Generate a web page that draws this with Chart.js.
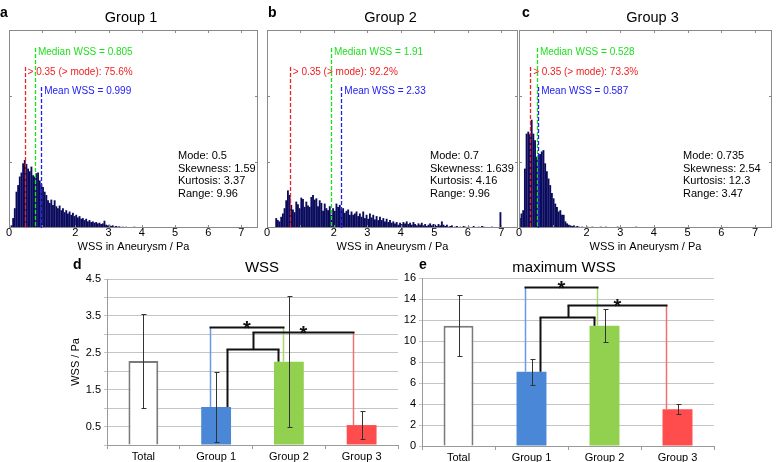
<!DOCTYPE html>
<html><head><meta charset="utf-8">
<script src="https://cdn.jsdelivr.net/npm/chart.js@4.4.1/dist/chart.umd.min.js"></script>
<style>
html,body{margin:0;padding:0;background:#fff;}
#wrap{position:relative;width:780px;height:462px;overflow:hidden;background:#fff;}
canvas{position:absolute;}
</style></head><body>
<div id="wrap">
<canvas id="ha" style="left:0px;top:0px" width="262" height="258"></canvas>
<canvas id="hb" style="left:258px;top:0px" width="262" height="258"></canvas>
<canvas id="hc" style="left:510px;top:0px" width="270" height="258"></canvas>
<canvas id="bd" style="left:0px;top:250px" width="400" height="212"></canvas>
<canvas id="be" style="left:400px;top:250px" width="380" height="212"></canvas>
</div>
<script>
// ---------------- DATA ----------------
const BIN_WIDTH = 0.05; // histogram bin width (Pa)
const group1Counts = [0,0.04,0.15,0.3,0.55,0.65,0.78,0.84,0.98,1.03,0.97,0.9,0.86,0.93,0.8,0.78,0.83,0.84,0.72,0.66,
 0.62,0.55,0.5,0.42,0.38,0.43,0.35,0.42,0.33,0.3,0.34,0.27,0.3,0.24,0.27,0.22,0.25,0.2,0.23,0.18,
 0.2,0.16,0.18,0.14,0.15,0.12,0.14,0.1,0.12,0.09,0.1,0.08,0.09,0.07,0.08,0.06,0.07,0.11,0.05,0.04,
 0.05,0.03,0.04,0.02,0.03,0.02,0.025,0.015,0.02,0.01,0.02,0.01,0.015,0.01,0.01,0.02,0.01,0,0.01,0.015,
 0.01,0,0.01,0,0.01,0,0.015,0,0.01,0,0.01,0,0,0.01,0,0,0.01,0,0,0,0,0,0,0,0,0,0,0,0,0,0.01];
const group2Counts = [0,0,0,0,0,0.15,0.12,0.1,0.17,0.22,0.3,0.42,0.57,0.5,0.35,0.28,0.24,0.4,0.36,0.3,
 0.46,0.44,0.32,0.4,0.34,0.32,0.47,0.5,0.43,0.45,0.33,0.42,0.38,0.26,0.37,0.3,0.27,0.33,0.2,0.3,
 0.26,0.37,0.32,0.35,0.28,0.3,0.23,0.26,0.28,0.2,0.25,0.2,0.22,0.25,0.18,0.22,0.17,0.25,0.15,0.2,
 0.14,0.22,0.16,0.2,0.13,0.18,0.12,0.17,0.12,0.15,0.1,0.14,0.09,0.12,0.08,0.1,0.07,0.09,0.05,0.08,
 0.06,0.09,0.07,0.1,0.06,0.08,0.05,0.09,0.06,0.04,0.07,0.05,0.08,0.04,0.06,0.03,0.05,0.07,0.04,0.06,
 0.05,0.03,0.06,0.04,0.1,0.05,0.03,0.05,0.02,0.03,0.04,0,0.02,0.03,0,0.02,0,0.03,0.02,0,
 0.02,0,0,0.03,0,0,0.02,0,0.03,0.02,0,0,0,0,0.02,0,0,0,0,0.24];
const group3Counts = [0.15,0.22,0.27,0.9,1.43,1.46,1.42,1.64,1.43,1.33,1.08,1.1,1.12,1.16,1.18,0.98,0.86,0.75,0.65,0.53,
 0.45,0.37,0.32,0.25,0.27,0.2,0.2,0.1,0.07,0.05,0.04,0.03,0.04,0.02,0.03,0.02,0.01,0.02,0.01,0.01,
 0.02,0,0.01,0.02,0,0.015,0,0.01,0.02,0,0,0.02,0.01,0,0.015,0,0.01,0,0.02,0,
 0.01,0,0,0.01,0,0,0.015,0,0,0.02];
const histTitles = ['Group 1', 'Group 2', 'Group 3'];
const histLetters = ['a', 'b', 'c'];
const medianWSS = ['0.805', '1.91', '0.528'];
const meanWSS = ['0.999', '2.33', '0.587'];
const abovePct = ['75.6', '92.2', '73.3'];
const modeVals = ['0.5', '0.7', '0.735'];
const skewVals = ['1.59', '1.639', '2.54'];
const kurtVals = ['3.37', '4.16', '12.3'];
const rangeVals = ['9.96', '9.96', '3.47'];
// marker line locations (Pa)
const redLineAt = [0.47, 0.68, 0.33];
const greenLineAt = [0.78, 1.91, 0.53];
const blueLineAt = [0.97, 2.22, 0.57];

const barCategories = ['Total', 'Group 1', 'Group 2', 'Group 3'];
const meanWssValues = [2.28, 1.03, 2.26, 0.54];
const meanWssSD = [1.28, 0.94, 1.77, 0.39];
const maxWssValues = [11.45, 7.07, 11.45, 3.5];
const maxWssSD = [2.9, 1.24, 1.57, 0.48];
const wssBracketLevels = [3.2, 2.6, 3.06];
const maxWssBracketLevels = [15.1, 12.3, 13.4];

// ---------------- SETUP ----------------
const FONT = '"Liberation Sans", Arial, Helvetica, sans-serif';
Chart.defaults.font.family = FONT;
Chart.defaults.color = '#000';

function line(ctx, x1, y1, x2, y2) { ctx.beginPath(); ctx.moveTo(x1, y1); ctx.lineTo(x2, y2); ctx.stroke(); }
function text(ctx, s, x, y, font, color, align) {
  ctx.font = font; ctx.fillStyle = color; ctx.textAlign = align || 'left'; ctx.textBaseline = 'middle';
  ctx.fillText(s, x, y);
}

const histDecor = {
  id: 'histDecor',
  afterDraw(chart, args, o) {
    const {ctx, chartArea: a, scales: {x, y}} = chart;
    ctx.save();
    ctx.strokeStyle = '#8a8a8a'; ctx.lineWidth = 1;
    ctx.strokeRect(Math.round(a.left) + 0.5, Math.round(a.top) + 0.5, Math.round(a.right - a.left) - 1, Math.round(a.bottom - a.top) - 1);
    for (let v = 0; v <= 7; v++) {
      const px = Math.round(x.getPixelForValue(v)) + 0.5;
      line(ctx, px, a.bottom, px, a.bottom - 3);
      line(ctx, px, a.top, px, a.top + 3);
    }
    for (const v of [1, 2]) {
      const py = Math.round(y.getPixelForValue(v)) + 0.5;
      line(ctx, a.left, py, a.left + 3, py);
      line(ctx, a.right, py, a.right - 3, py);
    }
    const k = o.k;
    const marks = [
      {v: greenLineAt[k], top: a.top + 18, ty: a.top + 22, c: '#1fe01f', t: 'Median WSS = ' + medianWSS[k]},
      {v: redLineAt[k], top: a.top + 37, ty: a.top + 42, c: '#f02020', t: '> 0.35 (> mode): ' + abovePct[k] + '%'},
      {v: blueLineAt[k], top: a.top + 57, ty: a.top + 61.5, c: '#2020f4', t: 'Mean WSS = ' + meanWSS[k]}
    ];
    ctx.lineWidth = 1.3;
    ctx.setLineDash([4, 2]);
    for (const m of marks) {
      const px = Math.round(x.getPixelForValue(m.v)) + 0.5;
      ctx.strokeStyle = m.c;
      line(ctx, px, m.top, px, a.bottom);
    }
    ctx.setLineDash([]);
    for (const m of marks) {
      const px = x.getPixelForValue(m.v);
      text(ctx, m.t, px + 3, m.ty, '10px ' + FONT, m.c);
    }
    const stats = ['Mode: ' + modeVals[k], 'Skewness: ' + skewVals[k], 'Kurtosis: ' + kurtVals[k], 'Range: ' + rangeVals[k]];
    stats.forEach((s, i) => text(ctx, s, a.right - o.statsDx, 156 + i * 12.5, '11px ' + FONT, '#000'));
    text(ctx, histTitles[k], o.titleX, 18, '14.5px ' + FONT, '#000', 'center');
    text(ctx, histLetters[k], o.letterX, 13, 'bold 14px ' + FONT, '#000');
    ctx.restore();
  }
};

function makeHist(id, k, counts, padRight, statsDx, titleX, letterX) {
  const data = counts.map((c, i) => ({x: (i + 0.5) * BIN_WIDTH, y: c}));
  return new Chart(document.getElementById(id), {
    type: 'bar',
    data: {datasets: [{data, backgroundColor: '#0b0b5e', borderWidth: 0, barPercentage: 1.12, categoryPercentage: 1}]},
    options: {
      responsive: false, animation: false, devicePixelRatio: 1,
      layout: {padding: {left: 9, right: padRight, top: 30, bottom: 0}},
      plugins: {legend: {display: false}, tooltip: {enabled: false},
        histDecor: {k, statsDx, titleX, letterX}},
      scales: {
        x: {type: 'linear', min: 0, max: 7.5, offset: false,
          grid: {display: false, drawTicks: false}, border: {display: false},
          ticks: {stepSize: 1, includeBounds: false, padding: -2, color: '#000', font: {size: 11},
            maxRotation: 0, autoSkip: false, callback: v => (v === 1 ? '' : String(v))},
          title: {display: true, text: 'WSS in Aneurysm / Pa', color: '#000', font: {size: 11}, padding: {top: 0, bottom: 4}},
          afterFit: s => { s.height = 30; }},
        y: {display: false, min: 0, max: 3}
      }
    },
    plugins: [histDecor]
  });
}

makeHist('ha', 0, group1Counts, 4, 80, 131, 0);
makeHist('hb', 1, group2Counts, 2, 88, 132.5, 10);
makeHist('hc', 2, group3Counts, 8, 89, 142.5, 12);

const barDecor = {
  id: 'barDecor',
  afterDatasetsDraw(chart, args, o) {
    const {ctx, scales: {x, y}} = chart;
    const vals = chart.data.datasets[0].data;
    ctx.save();
    // error bars
    ctx.strokeStyle = '#333'; ctx.lineWidth = 1;
    vals.forEach((v, i) => {
      const px = Math.round(x.getPixelForValue(i)) + 0.5;
      const t = Math.round(y.getPixelForValue(v + o.sd[i])) + 0.5;
      const b = Math.round(y.getPixelForValue(v - o.sd[i])) + 0.5;
      line(ctx, px, t, px, b);
      line(ctx, px - 2, t, px + 3, t);
      line(ctx, px - 2, b, px + 3, b);
    });
    // significance brackets
    const mids = {};
    o.brackets.forEach((br, j) => {
      const yl = Math.round(y.getPixelForValue(o.levels[j])) + 0.5;
      const x2 = Math.round(x.getPixelForValue(br.to) + br.toDx) + 0.5;
      let x1;
      if (br.fromMid !== undefined) {
        const m = mids[br.fromMid];
        x1 = m.x;
        ctx.strokeStyle = '#111'; ctx.lineWidth = 2;
        line(ctx, x1, m.y, x1, yl);
      } else {
        x1 = Math.round(x.getPixelForValue(br.from) + br.fromDx) + 0.5;
        ctx.strokeStyle = br.fromColor; ctx.lineWidth = br.fromColor === '#111' ? 2 : 1.5;
        line(ctx, x1, y.getPixelForValue(vals[br.from]), x1, yl);
      }
      ctx.strokeStyle = br.toColor; ctx.lineWidth = br.toColor === '#111' ? 2 : 1.5;
      line(ctx, x2, y.getPixelForValue(vals[br.to]), x2, yl);
      ctx.strokeStyle = '#111'; ctx.lineWidth = 2;
      line(ctx, x1 - 1, yl, x2 + 1, yl);
      mids[j] = {x: Math.round((x1 + x2) / 2) + 0.5, y: yl};
      if (br.star) {
        ctx.font = 'bold 20px ' + FONT; ctx.fillStyle = '#111'; ctx.textAlign = 'center'; ctx.textBaseline = 'alphabetic';
        ctx.fillText('*', (x1 + x2) / 2, yl + 7);
      }
    });
    ctx.restore();
  },
  afterDraw(chart, args, o) {
    const {ctx} = chart;
    ctx.save();
    text(ctx, o.title, o.titleX, 18, '15px ' + FONT, '#000', 'center');
    text(ctx, o.letter, o.letterX, 15, 'bold 14px ' + FONT, '#000');
    ctx.restore();
  }
};

function makeBar(id, values, sd, levels, cfg) {
  return new Chart(document.getElementById(id), {
    type: 'bar',
    data: {labels: barCategories, datasets: [{
      data: values,
      backgroundColor: ['#ffffff', '#4a87d6', '#92d050', '#ff4c4c'],
      borderColor: ['#7a7a7a', '#4a87d6', '#92d050', '#ff4c4c'],
      borderWidth: [2, 0, 0, 0], borderSkipped: 'bottom',
      barPercentage: 0.41, categoryPercentage: 1}]},
    options: {
      responsive: false, animation: false, devicePixelRatio: 1,
      layout: {padding: {left: 0, right: cfg.padRight, top: cfg.padTop, bottom: 0}},
      plugins: {legend: {display: false}, tooltip: {enabled: false},
        barDecor: {sd, levels, brackets: cfg.brackets, title: cfg.title, titleX: cfg.titleX, letter: cfg.letter, letterX: cfg.letterX}},
      scales: {
        x: {grid: {display: true, drawOnChartArea: false, tickLength: 4, color: '#9a9a9a'},
          border: {color: '#9a9a9a'},
          ticks: {padding: 1, color: '#000', font: {size: 11}, maxRotation: 0},
          afterFit: s => { s.height = cfg.xH; }},
        y: {min: 0, max: cfg.yMax,
          grid: {color: '#c4c4c4', tickLength: 3},
          border: {color: '#9a9a9a'},
          ticks: {stepSize: cfg.step, padding: 3, color: '#000', font: {size: 11}, callback: cfg.tickCb},
          title: cfg.yTitle ? {display: true, text: cfg.yTitle, color: '#000', font: {size: 11}, padding: {top: 69, bottom: 0}} : {display: false},
          afterFit: s => { s.width = cfg.yW; }}
      }
    },
    plugins: [barDecor]
  });
}

makeBar('bd', meanWssValues, meanWssSD, wssBracketLevels, {
  padRight: 2, padTop: 29, xH: 17, yW: 107, yMax: 4.5, step: 0.5,
  tickCb: v => (Math.round(v * 2) % 2 === 1 ? v.toFixed(1) : ''),
  yTitle: 'WSS / Pa', title: 'WSS', titleX: 262, letter: 'd', letterX: 73,
  brackets: [
    {from: 1, fromDx: -6, to: 2, toDx: -6, fromColor: '#6a9be0', toColor: '#a8d870', star: true},
    {from: 1, fromDx: 11, to: 2, toDx: -11, fromColor: '#111', toColor: '#111'},
    {fromMid: 1, to: 3, toDx: -9, toColor: '#f07070', star: true}
  ]
});

makeBar('be', maxWssValues, maxWssSD, maxWssBracketLevels, {
  padRight: 66, padTop: 28, xH: 16, yW: 22, yMax: 16, step: 2,
  tickCb: v => String(v),
  yTitle: null, title: 'maximum WSS', titleX: 164, letter: 'e', letterX: 19,
  brackets: [
    {from: 1, fromDx: -7, to: 2, toDx: -8, fromColor: '#6a9be0', toColor: '#a8d870', star: true},
    {from: 1, fromDx: 8, to: 2, toDx: -11, fromColor: '#111', toColor: '#111'},
    {fromMid: 1, to: 3, toDx: -12, toColor: '#f07070', star: true}
  ]
});
</script>
</body></html>
